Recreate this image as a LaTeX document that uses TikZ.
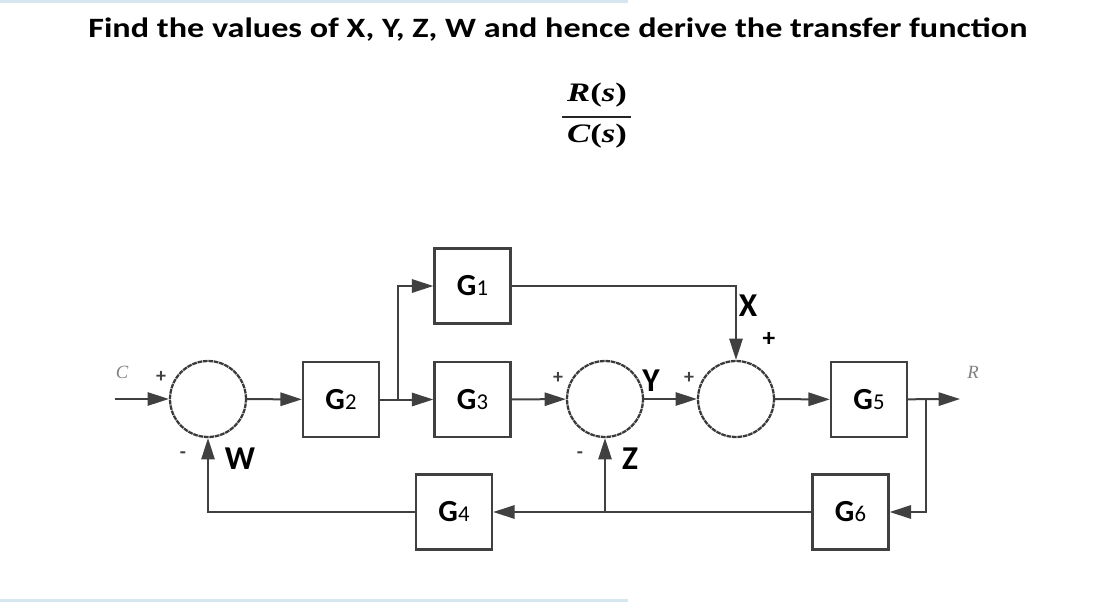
\documentclass[tikz,border=0pt]{standalone}
\usepackage{fontspec}
\setmainfont{Carlito}
\newfontfamily\cambria{Liberation Serif}
\usepackage{xcolor}
\usetikzlibrary{positioning,arrows.meta}
\definecolor{linegray}{HTML}{404040}
\definecolor{ringgray}{HTML}{3A3A3A}
\definecolor{bandblue}{HTML}{D6E6F0}
\newcommand{\gname}[1]{{\fontsize{23}{27}\selectfont\bfseries G\fontsize{17}{20}\mdseries\selectfont #1}}
\newcommand{\sig}[1]{{\fontsize{25}{29}\selectfont\bfseries #1}}
\newcommand{\frterm}[2]{\scalebox{1.3}[1]{\fontsize{20}{24}\selectfont\cambria\bfseries\itshape #1\upshape(\itshape #2\upshape)}}

\begin{document}
\begin{tikzpicture}[x=0.75pt,y=-0.75pt,
  block/.style={draw=linegray,line width=1.8pt,minimum width=57pt,minimum height=56pt,inner sep=0pt},
  sum/.style={circle,draw=ringgray,line width=1.7pt,dash pattern=on 3.5pt off 0.6pt,minimum size=57pt,inner sep=0pt},
  wire/.style={draw=linegray,line width=1.5pt},
  sign/.style={inner sep=0pt,font=\fontsize{15}{17}\selectfont\bfseries,text=linegray},
  io/.style={inner sep=0pt,font=\fontsize{14}{16}\selectfont\cambria\itshape,text=gray},
  >={Triangle[length=16pt,width=10pt]}]

  \useasboundingbox (0,0) rectangle (1108,604);
  \fill[bandblue] (0,0) rectangle (628,3);
  \fill[bandblue] (0,599) rectangle (628,602);

  % question
  \node (title) at (558,30) {\scalebox{1.22}[1]{\fontsize{21}{25}\selectfont\bfseries Find the values of X, Y, Z, W and hence derive the transfer function}};
  \node[inner sep=0pt] (num) at (597,95) {\frterm{R}{s}};
  \node[inner sep=0pt] (den) at (597,136) {\frterm{C}{s}};
  \draw[line width=1.5pt,black!85] (562,117) -- (631,117);

  % blocks and summing points
  \node[sum] (s1) at (208,399) {};
  \node[block] (g2) at (341,399.5) {\gname{2}};
  \node[block] (g3) at (472.5,399.5) {\gname{3}};
  \node[block] (g1) at (472.5,286) {\gname{1}};
  \node[sum] (s2) at (605,399) {};
  \node[sum] (s3) at (736,399) {};
  \node[block] (g5) at (869,399.5) {\gname{5}};
  \node[block] (g6) at (850.5,512) {\gname{6}};
  \node[block] (g4) at (454,512) {\gname{4}};

  \coordinate (cin) at (115,399);
  \coordinate (rout) at (960,399);
  \coordinate (b1) at (398,399);
  \coordinate (b2) at (926,399);
  \coordinate (b3) at (605,512);

  % forward path
  \draw[wire,->] (cin) -- (s1);
  \draw[wire,->] (s1) -- (g2);
  \draw[wire,->] (g2) -- (g3);
  \draw[wire,->] (b1) |- (g1);
  \draw[wire,->] (g3) -- (s2);
  \draw[wire,->] (s2) -- (s3);
  \draw[wire,->] (g1) -| (s3);
  \draw[wire,->] (s3) -- (g5);
  \draw[wire,->] (g5) -- (rout);

  % feedback
  \draw[wire,->] (b2) |- (g6);
  \draw[wire,->] (g6) -- (g4);
  \draw[wire,->] (b3) -- (s2);
  \draw[wire,->] (g4) -| (s1);

  % labels
  \node[io] (lc) at (122,372) {C};
  \node[io] (lr) at (973,372) {R};
  \node[sign] (p1) at (161,377) {+};
  \node[sign] (p2) at (558,378) {+};
  \node[sign] (p3) at (689,378) {+};
  \node[sign] (m1) at (183,455) {-};
  \node[sign] (m2) at (580,455) {-};
  \node[inner sep=0pt,font=\fontsize{19}{22}\selectfont\bfseries] (p4) at (769,339) {+};
  \node[inner sep=0pt] (lx) at (748,306) {\sig{X}};
  \node[inner sep=0pt] (ly) at (651,381) {\sig{Y}};
  \node[inner sep=0pt] (lz) at (630,459) {\sig{Z}};
  \node[inner sep=0pt] (lw) at (240,459) {\sig{W}};
\end{tikzpicture}
\end{document}
